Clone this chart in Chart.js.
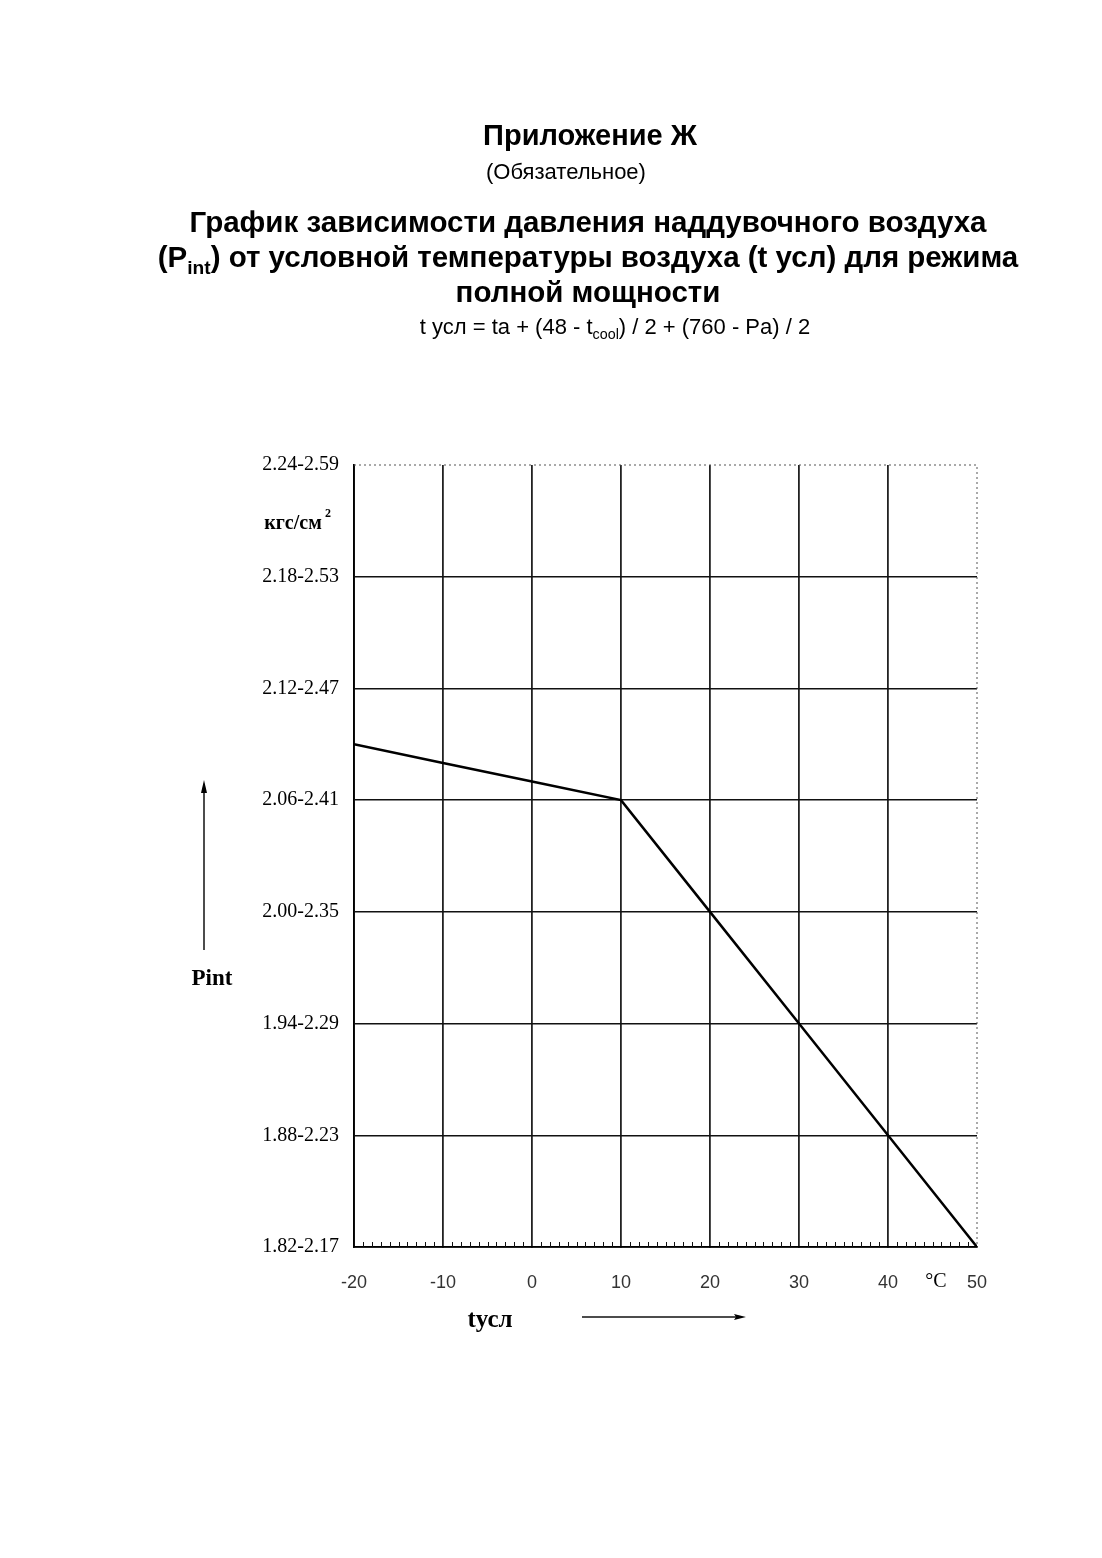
<!DOCTYPE html>
<html lang="ru">
<head>
<meta charset="utf-8">
<script src="https://cdn.jsdelivr.net/npm/chart.js@4.4.1/dist/chart.umd.min.js"></script>
<style>
  html, body { margin: 0; padding: 0; background: #fff; }
  #page { position: relative; width: 1102px; height: 1558px; overflow: hidden; }
  #page canvas { position: absolute; left: 0; top: 0; }
  .txt { position: absolute; left: 0; width: 1102px; text-align: center; color: #000;
         font-family: "Liberation Sans", Arial, sans-serif; white-space: nowrap; box-sizing: border-box; }
  .h1 { font-weight: bold; font-size: 29px; line-height: 34px; }
  .h2 { font-size: 22px; line-height: 26px; }
  .h3 { font-weight: bold; font-size: 29.5px; line-height: 35px; }
  .f  { font-size: 22px; line-height: 26px; }
  sub { font-size: 65%; line-height: 0; }
</style>
</head>
<body>
<div id="page">
  <canvas id="chart" width="1102" height="1558"></canvas>
  <div class="txt h1" style="top:118px; padding-left:78px;">Приложение Ж</div>
  <div class="txt h2" style="top:159px; padding-left:30px;">(Обязательное)</div>
  <div class="txt h3" style="top:204px; padding-left:74px;">График зависимости давления наддувочного воздуха<br>(P<sub>int</sub>) от условной температуры воздуха (t усл) для режима<br>полной мощности</div>
  <div class="txt f" style="top:314px; padding-left:128px;">t усл = ta + (48 - t<sub>cool</sub>) / 2 + (760 - Pa) / 2</div>
</div>
<script>
// Условная температура (°C) и давление наддува (нижняя граница диапазона)
const tValues = [-20, -10, 0, 10, 20, 30, 40, 50];
const pValues = [2.09, 2.08, 2.07, 2.06, 2.00, 1.94, 1.88, 1.82];

// Деления оси Y и их подписи (диапазоны давлений)
const yTicks = [1.82, 1.88, 1.94, 2.00, 2.06, 2.12, 2.18, 2.24];
const yLabels = ["1.82-2.17", "1.88-2.23", "1.94-2.29", "2.00-2.35",
                 "2.06-2.41", "2.12-2.47", "2.18-2.53", "2.24-2.59"];
const xTicks = [-20, -10, 0, 10, 20, 30, 40, 50];

const serif = '"Liberation Serif", "Times New Roman", serif';

// Рамка пунктиром, мелкие деления и подписи осей
const extras = {
  id: "extras",
  afterDraw(chart) {
    const { ctx, chartArea: a, scales: { x } } = chart;
    ctx.save();

    // пунктир сверху и справа
    ctx.strokeStyle = "#555";
    ctx.lineWidth = 1;
    ctx.setLineDash([2, 3]);
    ctx.beginPath();
    ctx.moveTo(a.left, a.top);
    ctx.lineTo(a.right, a.top);
    ctx.lineTo(a.right, a.bottom);
    ctx.stroke();
    ctx.setLineDash([]);

    // мелкие деления по оси X
    ctx.strokeStyle = "#111";
    ctx.lineWidth = 1;
    ctx.beginPath();
    for (let t = xTicks[0]; t <= xTicks[xTicks.length - 1]; t++) {
      if (t % 10 === 0) continue;
      const px = Math.round(x.getPixelForValue(t)) + 0.5;
      ctx.moveTo(px, a.bottom);
      ctx.lineTo(px, a.bottom - 5);
    }
    ctx.stroke();

    ctx.fillStyle = "#000";
    ctx.textAlign = "center";
    ctx.textBaseline = "middle";

    // единицы измерения давления
    ctx.font = "bold 20px " + serif;
    ctx.fillText("кгс/см", 293, 524);
    ctx.font = "bold 12px " + serif;
    ctx.fillText("2", 328, 514);

    // Pint и стрелка вверх
    ctx.font = "bold 23px " + serif;
    ctx.fillText("Pint", 212, 979);
    ctx.lineWidth = 1.5;
    ctx.beginPath();
    ctx.moveTo(204, 950);
    ctx.lineTo(204, 786);
    ctx.stroke();
    ctx.beginPath();
    ctx.moveTo(204, 780);
    ctx.lineTo(201, 793);
    ctx.lineTo(207, 793);
    ctx.closePath();
    ctx.fill();

    // tусл и стрелка вправо
    ctx.font = "bold 25px " + serif;
    ctx.fillText("tусл", 490, 1321);
    ctx.beginPath();
    ctx.moveTo(582, 1317);
    ctx.lineTo(740, 1317);
    ctx.stroke();
    ctx.beginPath();
    ctx.moveTo(746, 1317);
    ctx.lineTo(734, 1314);
    ctx.lineTo(736, 1317);
    ctx.lineTo(734, 1320);
    ctx.closePath();
    ctx.fill();

    // °C
    ctx.font = "20px " + serif;
    ctx.fillText("°C", 936, 1282);

    ctx.restore();
  }
};

new Chart(document.getElementById("chart"), {
  type: "line",
  data: {
    datasets: [{
      data: tValues.map((t, i) => ({ x: t, y: pValues[i] })),
      borderColor: "#000",
      borderWidth: 2.5,
      pointRadius: 0,
      tension: 0,
      fill: false
    }]
  },
  options: {
    responsive: false,
    animation: false,
    layout: { padding: { top: 465, right: 125, left: 0, bottom: 0 } },
    plugins: {
      legend: { display: false },
      tooltip: { enabled: false }
    },
    scales: {
      x: {
        type: "linear",
        min: -20,
        max: 50,
        afterBuildTicks: (scale) => { scale.ticks = xTicks.map(v => ({ value: v })); },
        afterFit: (scale) => { scale.height = 1558 - 1247; },
        grid: {
          color: (c) => c.tick && c.tick.value === 50 ? "rgba(0,0,0,0)" : "#222",
          lineWidth: 1.8,
          tickLength: 0
        },
        border: { display: true, color: "#000", width: 1.8 },
        ticks: {
          color: "#333",
          padding: 25,
          maxRotation: 0,
          font: { family: '"Liberation Sans", Arial, sans-serif', size: 18 }
        }
      },
      y: {
        type: "linear",
        min: 1.82,
        max: 2.24,
        afterBuildTicks: (scale) => { scale.ticks = yTicks.map(v => ({ value: v })); },
        afterFit: (scale) => { scale.width = 354; },
        grid: {
          color: (c) => c.tick && c.tick.value === 2.24 ? "rgba(0,0,0,0)" : "#111",
          lineWidth: 1.5,
          tickLength: 0
        },
        border: { display: true, color: "#000", width: 1.8 },
        ticks: {
          color: "#000",
          padding: 15,
          callback: (value, index) => yLabels[index],
          font: { family: serif, size: 20 }
        }
      }
    }
  },
  plugins: [extras]
});
</script>
</body>
</html>
